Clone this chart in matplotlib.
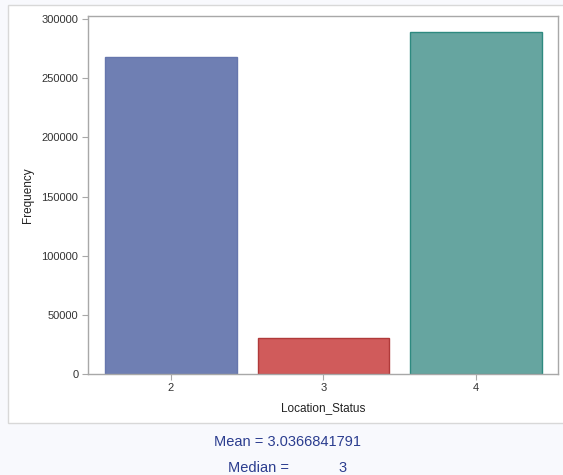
import matplotlib
matplotlib.use("Agg")
import matplotlib.pyplot as plt
from matplotlib.patches import Rectangle

plt.rcParams["font.family"] = ["Liberation Sans", "DejaVu Sans"]

categories = ["2", "3", "4"]
positions = [2, 3, 4]
frequencies = [268000, 30200, 289000]
fill_colors = ["#6f7fb3", "#d05b5b", "#66a5a0"]
edge_colors = ["#6676ad", "#b03a3a", "#2e8a80"]
yticks = [0, 50000, 100000, 150000, 200000, 250000, 300000]
mean_text = "Mean = 3.0366841791"
median_label = "Median ="
median_value = "3"

W, H = 563, 475
fig = plt.figure(figsize=(W / 100, H / 100), dpi=100)
fig.patch.set_facecolor("#f8f9fd")

# white panel behind the graph
panel = Rectangle((8 / W, 1 - 423 / H), (W + 5 - 8) / W, (423 - 5) / H,
                  transform=fig.transFigure, facecolor="white",
                  edgecolor="#d8d8d8", linewidth=1.0, zorder=-5)
fig.patches.append(panel)

ax = fig.add_axes([88 / W, 1 - 373.7 / H, (558 - 88) / W, (373.7 - 16) / H])
ax.set_zorder(2)
ax.bar(positions, frequencies, width=0.86, color=fill_colors,
       edgecolor=edge_colors, linewidth=1.0, zorder=2)
ax.set_xlim(1.456, 4.538)
ax.set_ylim(0, 302800)
ax.set_xticks(positions)
ax.set_xticklabels(categories)
ax.set_yticks(yticks)
ax.set_yticklabels([str(v) for v in yticks])
for s in ax.spines.values():
    s.set_color("#a8a8a8")
    s.set_linewidth(1.0)
ax.tick_params(axis="both", direction="out", length=4, width=0.8,
               color="#a8a8a8", labelsize=8, labelcolor="#333333", pad=3)
ax.set_xlabel("Location_Status", fontsize=8.5, color="#222222", labelpad=6)
ax.set_ylabel("Frequency", fontsize=8.5, color="#222222", labelpad=5)

navy = "#2b3d8f"
fig.text(288 / W, 1 - 442 / H, mean_text, ha="center", va="center",
         fontsize=10.5, color=navy)
fig.text(228 / W, 1 - 468 / H, median_label, ha="left", va="center",
         fontsize=10.5, color=navy)
fig.text(343 / W, 1 - 468 / H, median_value, ha="center", va="center",
         fontsize=10.5, color=navy)

fig.savefig("out.png", dpi=100, facecolor=fig.get_facecolor())
